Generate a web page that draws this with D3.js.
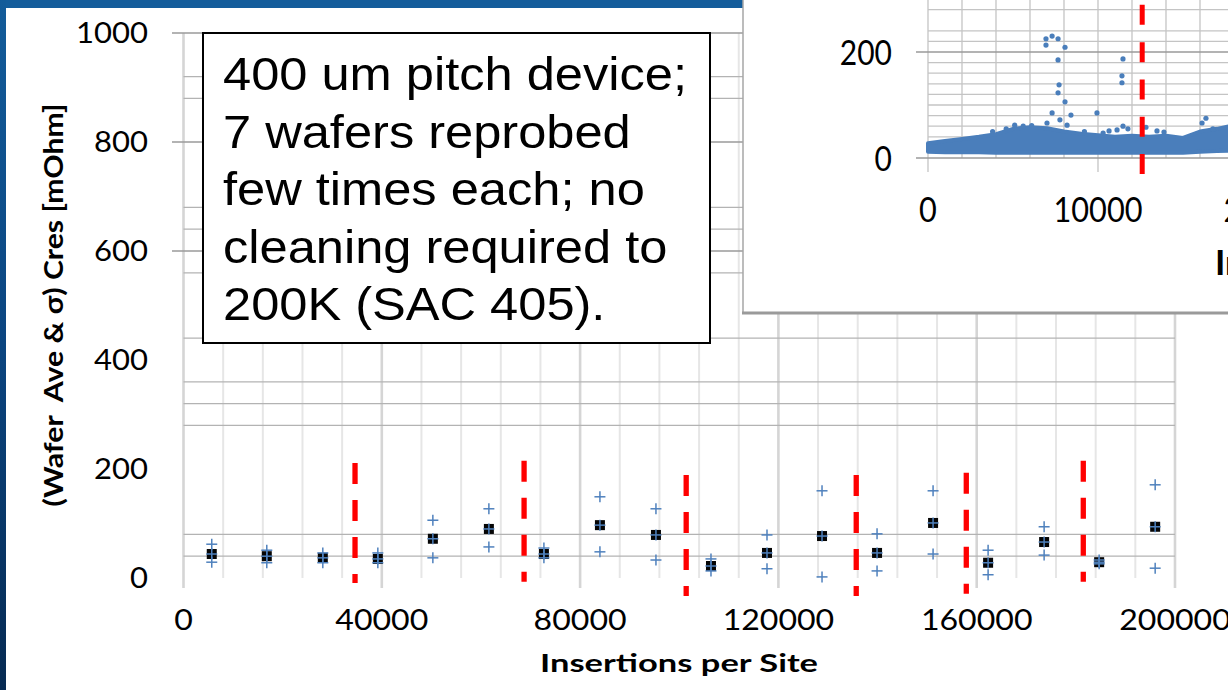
<!DOCTYPE html>
<html><head><meta charset="utf-8">
<script src="https://cdn.jsdelivr.net/npm/d3@7/dist/d3.min.js"></script>
<style>html,body{margin:0;padding:0;background:#fff;overflow:hidden} svg{display:block}</style>
</head><body>
<svg id="chart" width="1228" height="690"></svg>
<script>
// ---------------- main chart data ----------------
const insertions    = [5700, 16800, 28100, 39200, 50300, 61600, 72700, 84000, 95300, 106400, 117700, 128800, 139900, 151200, 162300, 173600, 184700, 196000];
const waferAve      = [44, 40, 37, 35, 72, 90, 44, 97, 79, 22, 46, 77, 46, 101, 28, 66, 29, 94];
const avePlusSigma  = [62, 51, 46, 46, 106, 127, 55, 149, 127, 35, 79, 160, 81, 160, 51, 94, 33, 171];
const aveMinusSigma = [29, 28, 28, 28, 37, 57, 37, 48, 33, 13, 17, 2, 13, 44, 6, 42, 26, 18];
const rebuildX      = [34600, 68700, 101400, 135700, 157900, 181500];
const rebuildTop    = [211, 215, 189, 189, 193, 215];
const rebuildBottom = [-9, -7, -33, -33, -29, -7];
const mainXTicks = [0, 40000, 80000, 120000, 160000, 200000];
const mainYTicks = [0, 200, 400, 600, 800, 1000];
const mainMajorGrid = [1000, 800, 600];
const mainMinorGrid = [920, 880, 680, 640, 560, 440, 360, 320, 280, 80, 40];
const noteLines = ["400 um pitch device;", "7 wafers reprobed", "few times each; no", "cleaning required to", "200K (SAC 405)."];
const yTitle = "(Wafer\u00A0 Ave & \u03C3) Cres [mOhm]";
const xTitle = "Insertions per Site";

// ---------------- inset chart data ----------------
const insetBandX    = [0, 1000, 2000, 3000, 4000, 5000, 6000, 7000, 8000, 9000, 10000, 11000, 12000, 13000, 14000, 15000, 16000, 17000, 18000];
const insetBandHigh = [28, 32, 36, 40, 45, 55, 58, 56, 50, 46, 43, 40, 42, 40, 42, 38, 50, 55, 62];
const insetBandLow  = [12, 11, 11, 11, 10, 10, 10, 10, 10, 10, 10, 10, 10, 10, 10, 10, 12, 13, 14];
const insetOutX = [6940, 6940, 7300, 7650, 8060, 7650, 7710, 7650, 8060, 7300, 8410, 7760, 7000, 8180, 9940, 11470, 11410, 11410, 11470, 11760, 11120, 10650, 12820, 13470, 13880, 16120, 16350, 16760, 5100, 5600, 6100, 4600, 3800, 9200, 10300];
const insetOutY = [225, 213, 230, 225, 209, 185, 138, 123, 106, 85, 81, 72, 66, 62, 85, 187, 155, 142, 60, 55, 53, 51, 58, 51, 49, 66, 75, 55, 62, 60, 61, 55, 50, 50, 47];
const insetCleanX = [12600];
const insetCleanTop = [289];
const insetCleanBottom = [-30];
const insetXTicks = [0, 10000, 20000];
const insetYTicks = [0, 200];
const insetGrid = [280, 240, 220, 180, 160, 140, 120, 100, 80, 60, 40];

// ---------------- drawing ----------------
const svg = d3.select("#chart");
const W = 1228, H = 690;
svg.append("rect").attr("width", W).attr("height", H).attr("fill", "#fff");

const x = d3.scaleLinear().domain([0, 200000]).range([183.5, 1175]);
const y = d3.scaleLinear().domain([0, 1000]).range([578, 33]);

// helper: horizontally stretched text to a target width
function fitText(parent, tx, ty, str, font, targetW, anchor, rotate) {
  const g = parent.append("g");
  const t = g.append("text").text(str).attr("x", 0).attr("y", 0)
    .style("font", font).attr("fill", "#000").attr("text-anchor", anchor || "start");
  const nat = t.node().getComputedTextLength();
  const sx = targetW ? targetW / nat : 1;
  g.attr("transform", `translate(${tx},${ty})` + (rotate ? ` rotate(${rotate})` : "") + ` scale(${sx},1)`);
  return g;
}

const main = svg.append("g");
// vertical gridlines every 8000
const vg = d3.range(0, 200001, 8000);
main.selectAll("line.vg").data(vg).join("line")
  .attr("x1", d => x(d)).attr("x2", d => x(d))
  .attr("y1", y(1000)).attr("y2", d => d % 40000 === 0 ? 588 : 578)
  .attr("stroke", d => d % 40000 === 0 ? "#d5d5d5" : "#e6e6e6")
  .attr("stroke-width", d => d % 40000 === 0 ? 2.6 : 2);

// horizontal gridlines
main.selectAll("line.hmin").data(mainMinorGrid).join("line")
  .attr("x1", x(0)).attr("x2", x(200000))
  .attr("y1", d => y(d)).attr("y2", d => y(d))
  .attr("stroke", "#b3b3b3").attr("stroke-width", 1.3);
main.selectAll("line.hmaj").data(mainMajorGrid).join("line")
  .attr("x1", 172).attr("x2", x(200000))
  .attr("y1", d => y(d)).attr("y2", d => y(d))
  .attr("stroke", "#9a9a9a").attr("stroke-width", 1.3);

// red dashed lines
main.selectAll("line.red").data(rebuildX).join("line")
  .attr("x1", d => x(d)).attr("x2", d => x(d))
  .attr("y1", (d, i) => y(rebuildTop[i])).attr("y2", (d, i) => y(rebuildBottom[i]))
  .attr("stroke", "#ff0000").attr("stroke-width", 5.3).attr("stroke-dasharray", "21,16");

// mean squares
main.selectAll("rect.ave").data(insertions).join("rect")
  .attr("x", d => x(d) - 5).attr("y", (d, i) => y(waferAve[i]) - 5)
  .attr("width", 10).attr("height", 10).attr("fill", "#050505");

function plus(g, cx, cy) {
  g.append("line").attr("x1", cx - 5.5).attr("x2", cx + 5.5).attr("y1", cy).attr("y2", cy)
    .attr("stroke", "#4f81bd").attr("stroke-width", 1.5);
  g.append("line").attr("x1", cx).attr("x2", cx).attr("y1", cy - 5.5).attr("y2", cy + 5.5)
    .attr("stroke", "#4f81bd").attr("stroke-width", 1.5);
}
const pg = main.append("g");
insertions.forEach((d, i) => {
  plus(pg, x(d), y(avePlusSigma[i]));
  plus(pg, x(d), y(aveMinusSigma[i]));
  plus(pg, x(d), y(waferAve[i]));
});

// tick labels
const tickFont = "28px Lato, 'Noto Sans', sans-serif";
mainYTicks.forEach(v => fitText(main, 148, y(v) + 10, String(v), tickFont, 18 * String(v).length, "end"));
mainXTicks.forEach(v => fitText(main, x(v), 630, String(v), tickFont, 18.6 * String(v).length, "middle"));

// axis titles
fitText(main, 679, 672, xTitle, "bold 25px Lato, 'Noto Sans', sans-serif", 278, "middle");
fitText(main, 63, 305, yTitle, "bold 27px Lato, 'Noto Sans', sans-serif", 403, "middle", -90);

// note box
const nb = main.append("g");
nb.append("rect").attr("x", 203).attr("y", 33).attr("width", 507).attr("height", 310)
  .attr("fill", "#fff").attr("stroke", "#000").attr("stroke-width", 2);
noteLines.forEach((s, i) => {
  const g = nb.append("g").attr("transform", `translate(223,${90 + i * 57.5}) scale(1.1,1)`);
  g.append("text").text(s).style("font", "46px 'Liberation Sans', Arial, sans-serif").attr("fill", "#000");
});

// ---------------- frame ----------------
const defs = svg.append("defs");
const lg = defs.append("linearGradient").attr("id", "fl").attr("x1", 0).attr("y1", 0).attr("x2", 0).attr("y2", 1);
lg.append("stop").attr("offset", "0").attr("stop-color", "#135c9a");
lg.append("stop").attr("offset", "0.5").attr("stop-color", "#0b4580");
lg.append("stop").attr("offset", "1").attr("stop-color", "#062a52");
svg.append("rect").attr("x", 0).attr("y", 0).attr("width", W).attr("height", 8).attr("fill", "#145d9b");
svg.append("rect").attr("x", 0).attr("y", 0).attr("width", 6).attr("height", H).attr("fill", "url(#fl)");

// ---------------- inset ----------------
const ix = d3.scaleLinear().domain([0, 20000]).range([928, 1268]);
const iy = d3.scaleLinear().domain([0, 200]).range([158, 52]);
const ins = svg.append("g");
ins.append("rect").attr("x", 743).attr("y", 0).attr("width", W - 743).attr("height", 313).attr("fill", "#fff");
// verticals every 2000
const ivg = d3.range(0, 20001, 2000);
ins.selectAll("line.ivg").data(ivg).join("line")
  .attr("x1", d => ix(d)).attr("x2", d => ix(d))
  .attr("y1", 0).attr("y2", d => d % 10000 === 0 ? 172 : iy(0))
  .attr("stroke", "#c4c4c4").attr("stroke-width", 1.3);
ins.selectAll("line.ihg").data(insetGrid).join("line")
  .attr("x1", ix(0)).attr("x2", W)
  .attr("y1", d => iy(d)).attr("y2", d => iy(d))
  .attr("stroke", "#c4c4c4").attr("stroke-width", 1.3);
ins.selectAll("line.ihm").data(insetYTicks).join("line")
  .attr("x1", 916).attr("x2", W)
  .attr("y1", d => iy(d)).attr("y2", d => iy(d))
  .attr("stroke", "#9a9a9a").attr("stroke-width", 1.3);
// dense band
const area = d3.area().x((d, i) => ix(insetBandX[i])).y0((d, i) => iy(insetBandLow[i])).y1((d, i) => iy(insetBandHigh[i]));
ins.append("path").datum(insetBandX).attr("d", area).attr("fill", "#4a7ebb")
  .attr("stroke", "#4a7ebb").attr("stroke-width", 4).attr("stroke-linejoin", "round");
ins.selectAll("circle.o").data(insetOutX).join("circle")
  .attr("cx", d => ix(d)).attr("cy", (d, i) => iy(insetOutY[i])).attr("r", 2.6).attr("fill", "#4a7ebb");
// cleaning line
ins.selectAll("line.ired").data(insetCleanX).join("line")
  .attr("x1", d => ix(d)).attr("x2", d => ix(d))
  .attr("y1", (d, i) => iy(insetCleanTop[i])).attr("y2", (d, i) => iy(insetCleanBottom[i]))
  .attr("stroke", "#ff0000").attr("stroke-width", 5).attr("stroke-dasharray", "20,17.3");
// inset labels
const iFont = "35px Lato, 'Noto Sans', sans-serif";
insetYTicks.forEach(v => fitText(ins, 892, iy(v) + 12.5, String(v), iFont, 17.4 * String(v).length, "end"));
insetXTicks.forEach(v => fitText(ins, ix(v), 222, String(v), iFont, 17.8 * String(v).length, "middle"));
fitText(ins, 1215, 275, xTitle, "bold 35px Lato, 'Noto Sans', sans-serif", null, "start");
// inset borders
ins.append("line").attr("x1", 743).attr("x2", 743).attr("y1", 0).attr("y2", 314).attr("stroke", "#a6a6a6").attr("stroke-width", 1.5);
ins.append("line").attr("x1", 742).attr("x2", W).attr("y1", 313).attr("y2", 313).attr("stroke", "#9a9a9a").attr("stroke-width", 3);
</script>
</body></html>
